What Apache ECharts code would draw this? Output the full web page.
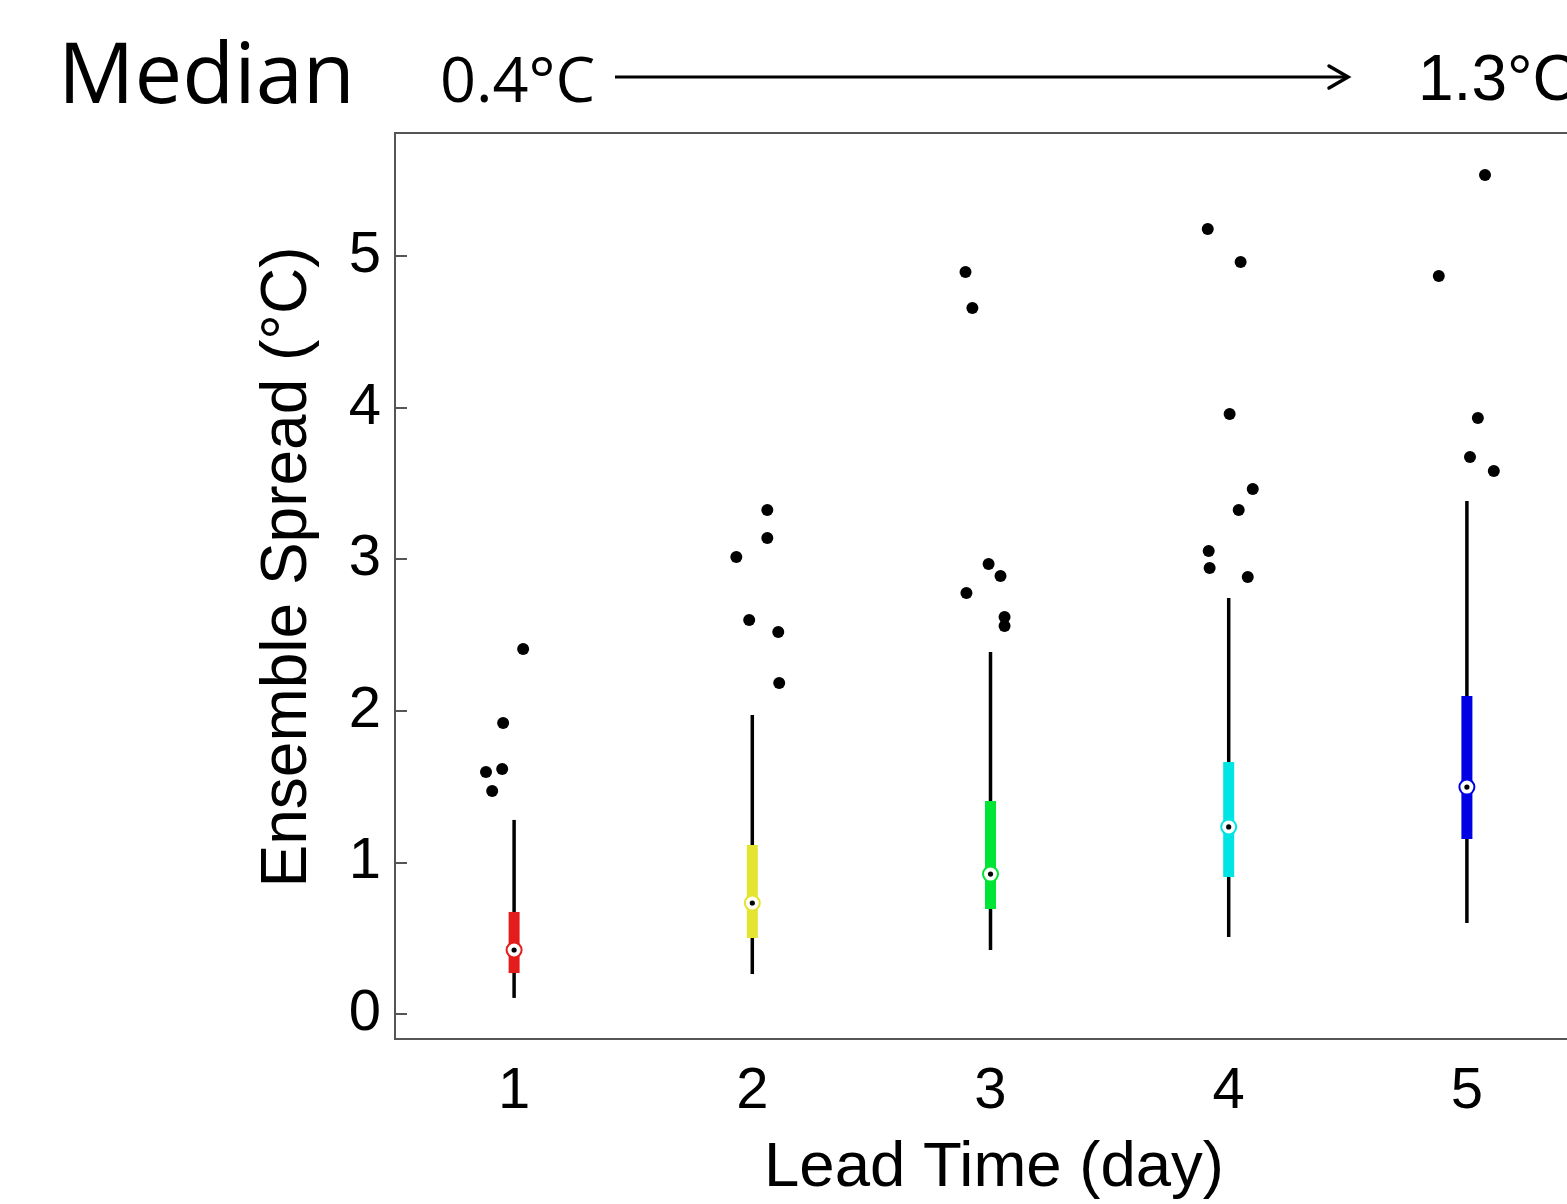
<!DOCTYPE html>
<html>
<head>
<meta charset="utf-8">
<script src="https://cdn.jsdelivr.net/npm/echarts@6/dist/echarts.min.js"></script>
<style>
html,body{margin:0;padding:0;background:#fff;}
#chart{width:1567px;height:1204px;}
</style>
</head>
<body>
<div id="chart"></div>
<script>
// ---- data ----
const days = [1, 2, 3, 4, 5];
const whiskerLow  = [0.106, 0.264, 0.422, 0.508, 0.600];
const q1          = [0.270, 0.501, 0.693, 0.904, 1.154];
const medians     = [0.422, 0.732, 0.923, 1.234, 1.497];
const q3          = [0.673, 1.115, 1.405, 1.662, 2.098];
const whiskerHigh = [1.280, 1.972, 2.388, 2.744, 3.384];
const boxColors = ['#e41c1c', '#e4e432', '#00e436', '#00e4e4', '#0000e4'];

// outliers: [lead time (jittered), spread]
const outliers1 = [[1.038, 2.408], [0.954, 1.920], [0.882, 1.596], [0.950, 1.616], [0.908, 1.471]];
const outliers2 = [[1.933, 3.015], [2.063, 3.325], [2.063, 3.140], [1.987, 2.599], [2.109, 2.520], [2.113, 2.183]];
const outliers3 = [[2.895, 4.894], [2.924, 4.657], [2.992, 2.968], [3.042, 2.889], [2.899, 2.777], [3.059, 2.619], [3.059, 2.559]];
const outliers4 = [[3.912, 5.178], [4.050, 4.960], [4.004, 3.958], [4.101, 3.463], [4.042, 3.325], [3.916, 3.054], [3.920, 2.942], [4.080, 2.883]];
const outliers5 = [[5.076, 5.534], [4.882, 4.868], [5.046, 3.931], [5.013, 3.674], [5.113, 3.582]];

const yTicks = [0, 1, 2, 3, 4, 5];
const xTicks = [1, 2, 3, 4, 5];

const titleText = 'Median';
const startText = '0.4°C';
const endText = '1.3°C';
const xName = 'Lead Time (day)';
const yName = 'Ensemble Spread (°C)';

// ---- build ----
const boxData = days.map((d, i) => [d, whiskerLow[i], q1[i], medians[i], q3[i], whiskerHigh[i]]);
const allOutliers = [].concat(outliers1, outliers2, outliers3, outliers4, outliers5);

const chart = echarts.init(document.getElementById('chart'));
const AX = '#555';

chart.setOption({
  animation: false,
  backgroundColor: '#fff',
  grid: {
    left: 395, top: 133, width: 1191, height: 906,
    outerBoundsMode: 'none', containLabel: false,
    show: true, borderColor: AX, borderWidth: 2, backgroundColor: 'transparent'
  },
  xAxis: {
    type: 'value', min: 0.5, max: 5.5,
    splitLine: { show: false },
    axisLine: { show: false },
    axisTick: { show: false },
    axisLabel: {
      customValues: xTicks,
      fontFamily: 'Liberation Sans', fontSize: 58, color: '#000', margin: 24
    }
  },
  yAxis: {
    type: 'value', min: -0.165, max: 5.811,
    splitLine: { show: false },
    axisLine: { show: false },
    axisTick: { show: true, inside: true, length: 12, customValues: yTicks, lineStyle: { color: AX, width: 2 } },
    axisLabel: {
      customValues: yTicks,
      fontFamily: 'Liberation Sans', fontSize: 58, color: '#000', margin: 14
    }
  },
  graphic: [
    { type: 'text', x: 58, y: 121, style: { text: titleText, font: '85px "Open Sans"', fill: '#000', verticalAlign: 'bottom' } },
    { type: 'text', x: 440, y: 116, style: { text: startText, font: '63px "Open Sans"', fill: '#000', verticalAlign: 'bottom' } },
    { type: 'line', shape: { x1: 615, y1: 77, x2: 1346, y2: 77 }, style: { stroke: '#000', lineWidth: 3 } },
    { type: 'polyline', shape: { points: [[1329, 66], [1348, 77], [1329, 88]] }, style: { stroke: '#000', lineWidth: 3.5, fill: null, lineCap: 'round', lineJoin: 'miter' } },
    { type: 'text', x: 1418, y: 114, style: { text: endText, font: '64px "Liberation Sans"', fill: '#000', verticalAlign: 'bottom' } },
    { type: 'text', x: 994, y: 1168, style: { text: xName, font: '63.5px "Liberation Sans"', fill: '#000', align: 'center', verticalAlign: 'middle' } },
    { type: 'text', x: 288, y: 567, rotation: Math.PI / 2, style: { text: yName, font: '64px "Liberation Sans"', fill: '#000', align: 'center', verticalAlign: 'middle' } }
  ],
  series: [
    {
      type: 'custom',
      data: boxData,
      renderItem: function (params, api) {
        const i = params.dataIndex;
        const x = api.value(0);
        const pLow = api.coord([x, api.value(1)]);
        const pQ1 = api.coord([x, api.value(2)]);
        const pMed = api.coord([x, api.value(3)]);
        const pQ3 = api.coord([x, api.value(4)]);
        const pHigh = api.coord([x, api.value(5)]);
        const col = boxColors[i];
        const bw = 11;
        return {
          type: 'group',
          children: [
            { type: 'line', shape: { x1: pLow[0], y1: pLow[1], x2: pHigh[0], y2: pHigh[1] }, style: { stroke: '#000', lineWidth: 3.5 } },
            { type: 'rect', shape: { x: pQ1[0] - bw / 2, y: pQ3[1], width: bw, height: pQ1[1] - pQ3[1] }, style: { fill: col } },
            { type: 'circle', shape: { cx: pMed[0], cy: pMed[1], r: 7.5 }, style: { fill: '#fff', stroke: col, lineWidth: 2 } },
            { type: 'circle', shape: { cx: pMed[0], cy: pMed[1], r: 2.6 }, style: { fill: '#000' } }
          ]
        };
      },
      z: 2
    },
    {
      type: 'scatter',
      data: allOutliers,
      symbol: 'circle',
      symbolSize: 12,
      itemStyle: { color: '#000', opacity: 1 },
      z: 3
    }
  ]
});
</script>
</body>
</html>
